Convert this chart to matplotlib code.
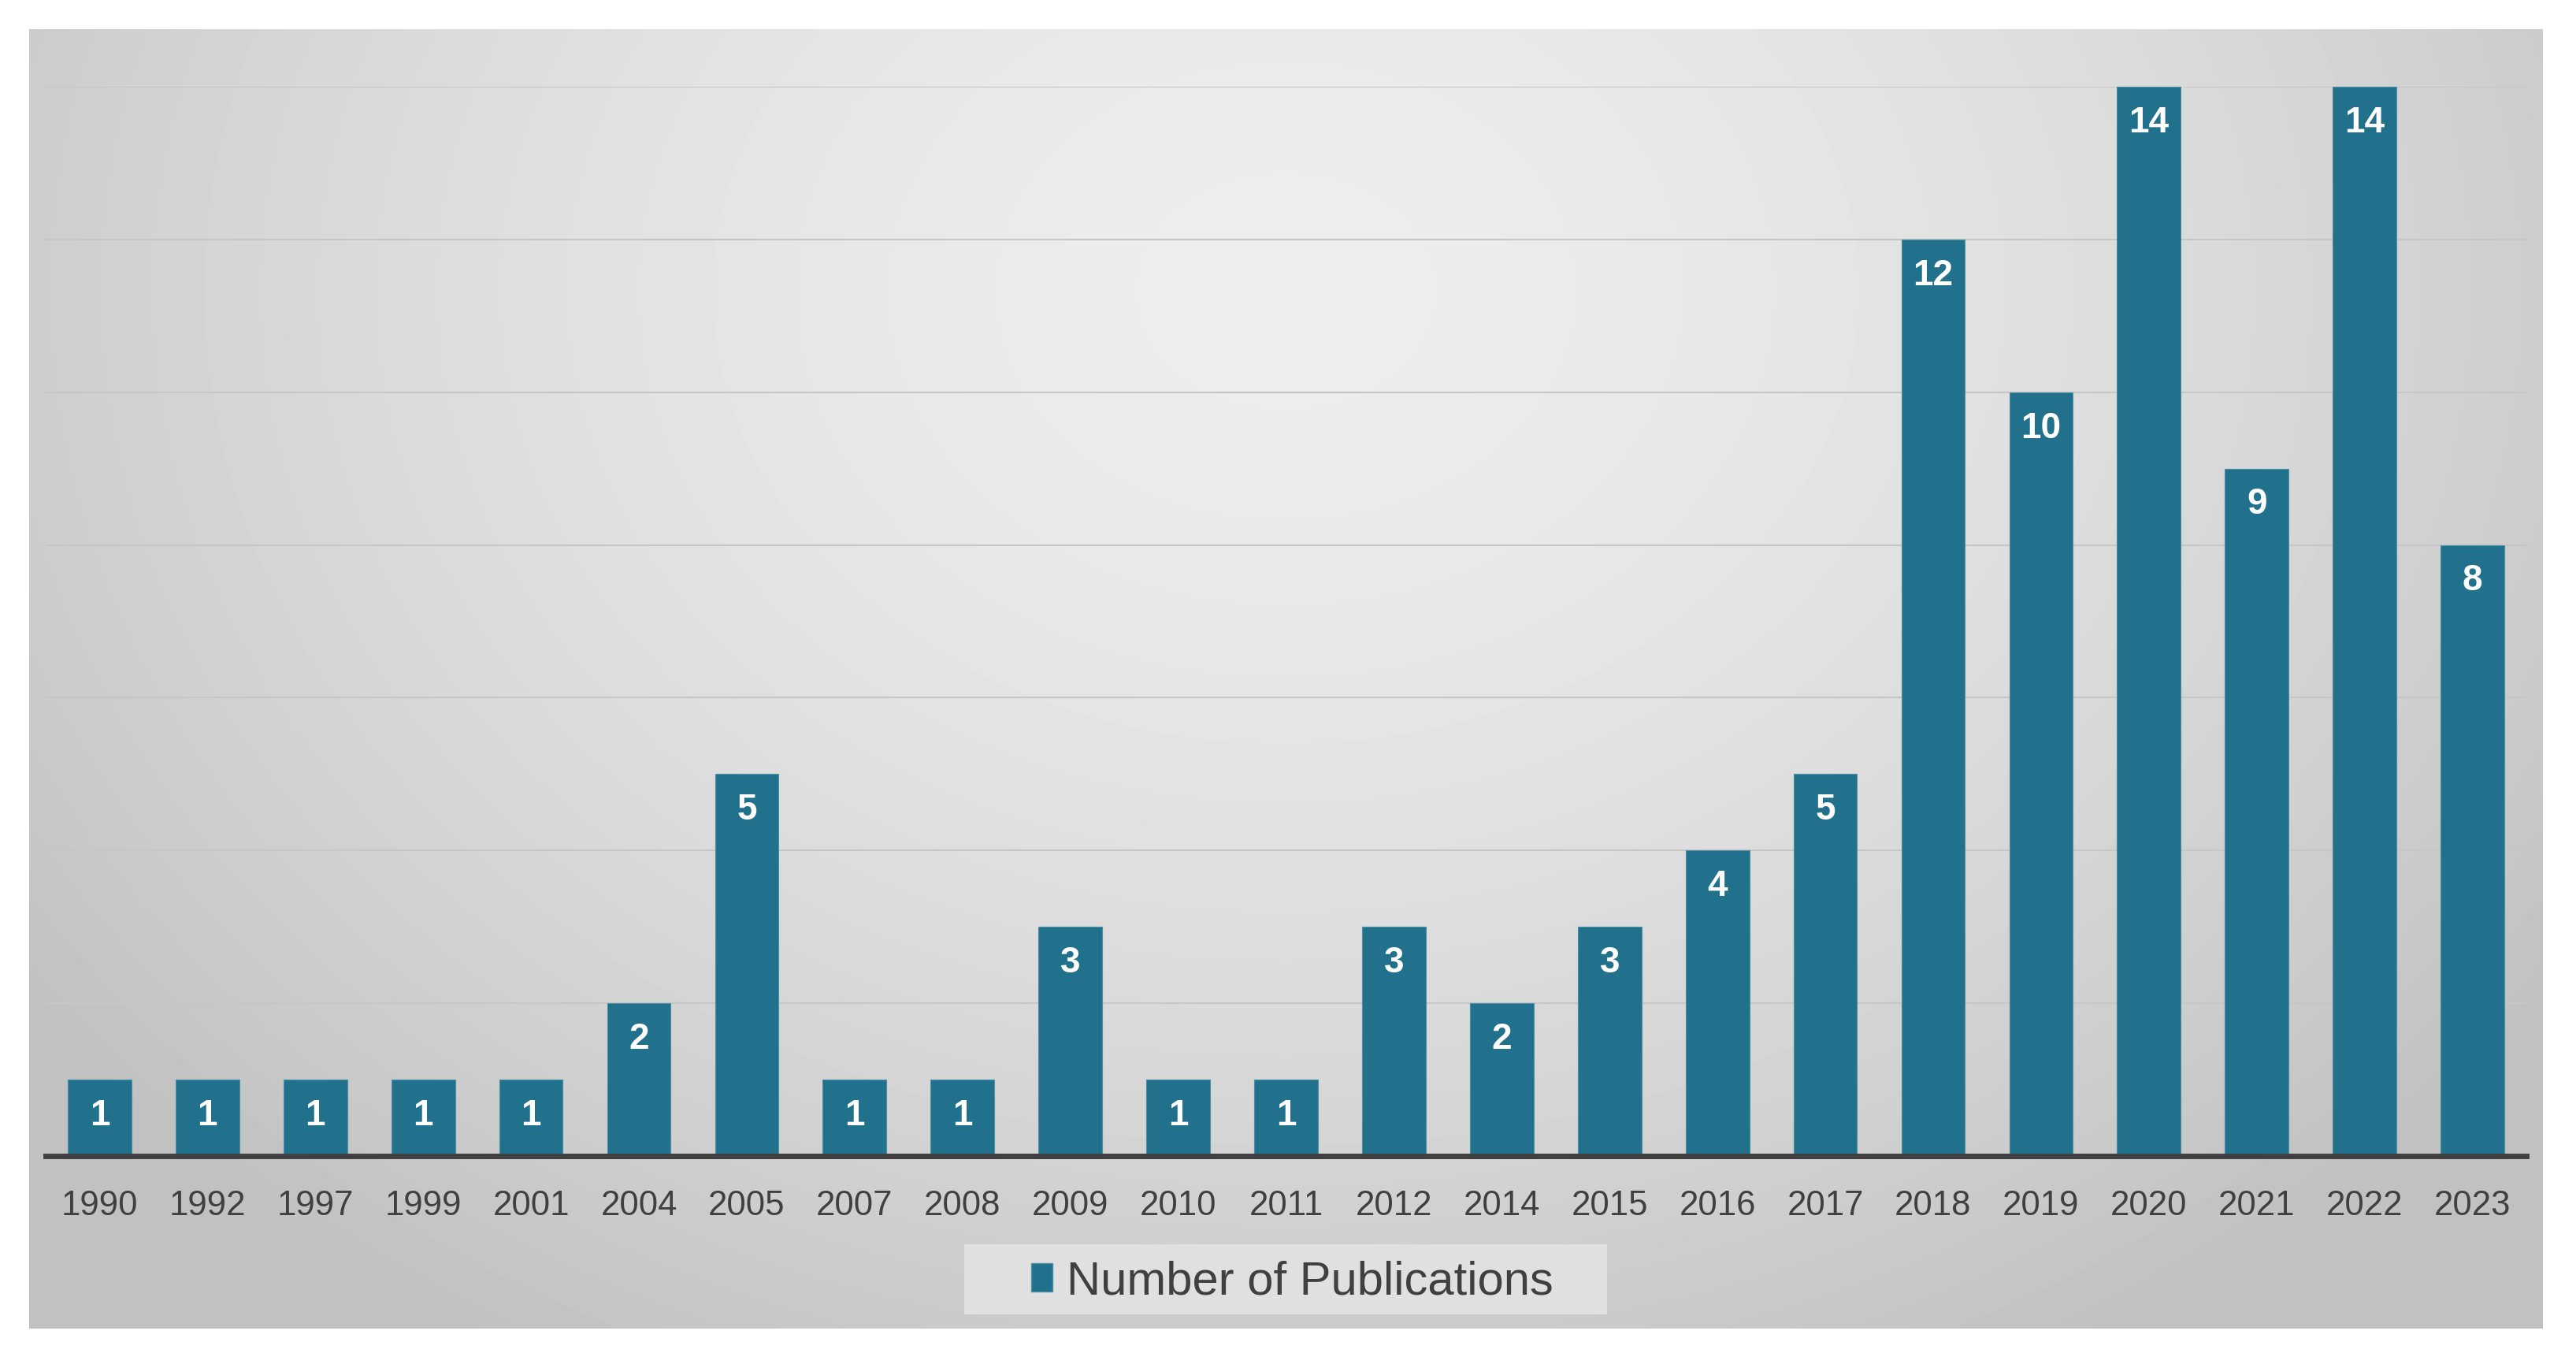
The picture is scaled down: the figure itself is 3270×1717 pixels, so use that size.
import numpy as np
import matplotlib
matplotlib.use("Agg")
import matplotlib.pyplot as plt
from matplotlib.patches import Rectangle, Patch

years = ['1990', '1992', '1997', '1999', '2001', '2004', '2005', '2007', '2008', '2009',
         '2010', '2011', '2012', '2014', '2015', '2016', '2017', '2018', '2019', '2020',
         '2021', '2022', '2023']
counts = [1, 1, 1, 1, 1, 2, 5, 1, 1, 3, 1, 1, 3, 2, 3, 4, 5, 12, 10, 14, 9, 14, 8]
series_name = 'Number of Publications'

W, H = 3270, 1717
DPI = 100
fig = plt.figure(figsize=(W / DPI, H / DPI), dpi=DPI, facecolor='white')

# background panel with radial gradient
bg = fig.add_axes([0, 0, 1, 1], zorder=0)
bg.set_xlim(0, W)
bg.set_ylim(H, 0)
bg.axis('off')
px0, px1, py0, py1 = 37, 3228, 38, 1686
nx, ny = 400, 220
gx = np.linspace(0, 1, nx)
gy = np.linspace(0, 1, ny)
X, Y = np.meshgrid(gx, gy)
r = np.sqrt(((X - 0.5) / 0.62) ** 2 + ((Y - 0.2) / 0.95) ** 2)
r = np.clip(r, 0, 1)
light, dark = 0.93, 0.755
vals = light - (light - dark) * r ** 1.6
bg.imshow(vals, cmap='gray', vmin=0, vmax=1, extent=(px0, px1, py1, py0),
          aspect='auto', interpolation='bilinear')

# main axes
left, right = 58 / W, 3207 / W
bottom = (H - 1467) / H
top = (H - 110) / H
ax = fig.add_axes([left, bottom, right - left, top - bottom], zorder=1)
ax.patch.set_alpha(0)

x = np.arange(len(years))
bar_color = '#21718C'
bars = ax.bar(x, counts, width=0.59, color=bar_color, edgecolor='#4f8fa6',
              linewidth=0.8, zorder=3, label=series_name)
ax.set_xlim(-0.5, len(years) - 0.5)
ax.set_ylim(0, 14)
ax.set_yticks(np.arange(0, 15, 2))
ax.yaxis.grid(True, color='#c6c6c6', linewidth=1.5, zorder=0)
ax.set_axisbelow(True)
ax.tick_params(axis='y', left=False, labelleft=False)
ax.set_xticks(x)
ax.set_xticklabels(years, fontsize=31.5, color='#404040', family='Liberation Sans')
ax.tick_params(axis='x', length=0, pad=31)
for s in ['top', 'right', 'left']:
    ax.spines[s].set_visible(False)
ax.spines['bottom'].set_color('#404040')
ax.spines['bottom'].set_linewidth(5)
ax.spines['bottom'].set_zorder(4)

for b, v in zip(bars, counts):
    ax.annotate(str(v), xy=(b.get_x() + b.get_width() / 2, v), xytext=(0, -33),
                textcoords='offset points', ha='center', va='center',
                fontsize=33, fontweight='bold', color='white',
                family='Liberation Sans', zorder=5)

# legend box
lx0, lx1, ly0, ly1 = 1224, 2040, 1579, 1668
bg.add_patch(Rectangle((lx0, ly0), lx1 - lx0, ly1 - ly0, facecolor='#e3e3e3',
                       edgecolor='none', alpha=0.9, zorder=2))
leg = fig.legend(handles=[Patch(facecolor=bar_color, edgecolor='#4f8fa6')],
                 labels=[series_name], loc='center',
                 bbox_to_anchor=(1640 / W, (H - 1627) / H), frameon=False,
                 prop={'family': 'Liberation Sans', 'size': 43},
                 labelcolor='#404040', handlelength=0.45, handleheight=0.55,
                 handletextpad=0.3)

fig.savefig('out.png', dpi=DPI, facecolor='white')
